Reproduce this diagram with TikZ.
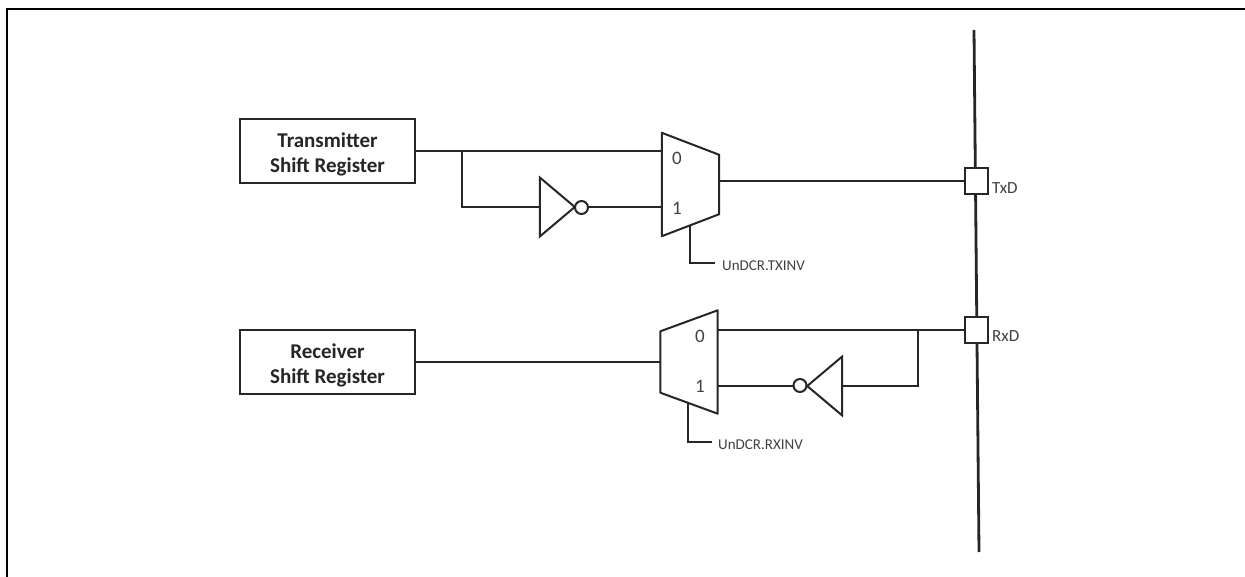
\documentclass[tikz,border=0pt]{standalone}
\usepackage{fontspec}
\setmainfont{Carlito}
\usetikzlibrary{shapes.geometric,positioning,calc}
\definecolor{linecolor}{HTML}{262626}
\definecolor{textcolor}{HTML}{404040}
\newcommand{\regstrut}{\rule{0pt}{21pt}}

\begin{document}
\begin{tikzpicture}[
    x=1pt, y=-1pt,
    wire/.style={draw=linecolor, line width=2pt},
    regblock/.style={
        rectangle,
        draw=linecolor,
        fill=white,
        minimum width=175pt,
        minimum height=64pt,
        inner sep=0pt,
        align=center,
        line width=2pt,
        font=\fontsize{21}{25}\selectfont\bfseries\color{linecolor}
    },
    muxbox/.style={
        rectangle,
        minimum width=57pt,
        minimum height=103pt,
        inner sep=0pt
    },
    muxline/.style={draw=linecolor, fill=white, line width=2pt, line join=round},
    invblock/.style={
        isosceles triangle,
        isosceles triangle stretches,
        shape border rotate=#1,
        draw=linecolor,
        fill=white,
        minimum width=59pt,
        minimum height=35pt,
        inner sep=0pt,
        line width=2pt
    },
    bubble/.style={
        circle,
        draw=linecolor,
        fill=white,
        minimum width=11pt,
        minimum height=13pt,
        inner sep=0pt,
        line width=2pt
    },
    padblock/.style={
        rectangle,
        draw=linecolor,
        fill=white,
        minimum width=23pt,
        minimum height=26pt,
        inner sep=0pt,
        line width=1.8pt
    },
    muxlabel/.style={font=\fontsize{19}{19}\selectfont\color{textcolor}, inner sep=0pt},
    siglabel/.style={anchor=west, font=\fontsize{15}{18}\selectfont\color{textcolor}, inner sep=0pt},
    pinlabel/.style={siglabel, font=\fontsize{17}{18}\selectfont\color{textcolor}}
]
\useasboundingbox (0,0) rectangle (1245,577);

% Outer frame
\coordinate (frame_bl) at (7,577);
\coordinate (frame_tl) at (7,9);
\coordinate (frame_tr) at (1245,9);
\draw[draw=black, line width=2pt] (frame_bl) -- (frame_tl) -- (frame_tr);

% --- BUS AND PINS ---
\coordinate (bus_top) at (974,30);
\coordinate (bus_bot) at (979,552);
\draw[draw=linecolor, line width=2.8pt] (bus_top) -- (bus_bot);

\node[padblock] (txpad) at (976.5,181) {};
\node[padblock] (rxpad) at (976.5,330) {};
\node[pinlabel] (txdlabel) at (992,188) {TxD};
\node[pinlabel] (rxdlabel) at (992,336) {RxD};

% --- TRANSMIT PATH ---
\node[regblock] (txreg) at (327.5,151.5) {\regstrut Transmitter\\Shift Register};
\node[muxbox] (txmux) at (690.5,184.5) {};
\draw[muxline] (txmux.north west) -- ($(txmux.north east)+(0,22)$)
    -- ($(txmux.south east)+(0,-22)$) -- (txmux.south west) -- cycle;
\node[invblock=0] (txinv) at (553.5,207) {};
\node[bubble] (txbub) at (581.5,207.5) {};
\node[muxlabel] (txzero) at (677,158) {0};
\node[muxlabel] (txone) at (677,208) {1};
\node[siglabel] (txsel) at (722,265.5) {UnDCR.TXINV};

\coordinate (txbranch) at (462,151.5);
\coordinate (txselstem) at (690,225);
\coordinate (txselend) at (715,263);

\draw[wire] (txreg.east) -- (txreg.east -| txmux.west);
\draw[wire] (txbranch) |- (txinv.west);
\draw[wire] (txbub.east) -- (txbub.east -| txmux.west);
\draw[wire] (txmux.east |- txpad.west) -- (txpad.west);
\draw[wire] (txselstem) |- (txselend);

% --- RECEIVE PATH ---
\node[regblock] (rxreg) at (327.5,362) {\regstrut Receiver\\Shift Register};
\node[muxbox] (rxmux) at (689,362) {};
\draw[muxline] (rxmux.north east) -- ($(rxmux.north west)+(0,21)$)
    -- ($(rxmux.south west)+(0,-21)$) -- (rxmux.south east) -- cycle;
\node[invblock=180] (rxinv) at (828.5,386) {};
\node[bubble] (rxbub) at (800,385.5) {};
\node[muxlabel] (rxzero) at (700,336) {0};
\node[muxlabel] (rxone) at (700,386) {1};
\node[siglabel] (rxsel) at (718,444.5) {UnDCR.RXINV};

\coordinate (rxbranch) at (918,330);
\coordinate (rxselstem) at (688,403);
\coordinate (rxselend) at (712,442);

\draw[wire] (rxreg.east) -- (rxreg.east -| rxmux.west);
\draw[wire] (rxpad.west) -- (rxpad.west -| rxmux.east);
\draw[wire] (rxbranch) |- (rxinv.east);
\draw[wire] (rxbub.west) -- (rxbub.west -| rxmux.east);
\draw[wire] (rxselstem) |- (rxselend);

\end{tikzpicture}
\end{document}
